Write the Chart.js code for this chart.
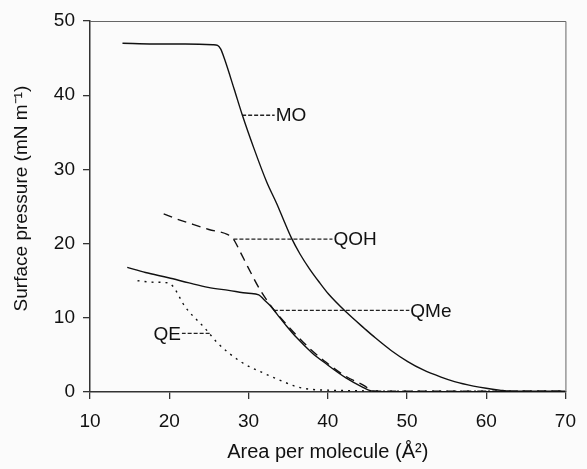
<!DOCTYPE html>
<html>
<head>
<meta charset="utf-8">
<script src="https://cdn.jsdelivr.net/npm/chart.js@4.4.0/dist/chart.umd.min.js"></script>
<style>
  body { margin: 0; background: #fbfbfb; }
  #wrap { width: 587px; height: 469px; }
</style>
</head>
<body>
<div id="wrap"><canvas id="isoCanvas" width="587" height="469"></canvas></div>
<script>
// Isotherm data (area per molecule, surface pressure)
const moX = [14.1, 18, 22, 25.5, 26.1, 26.5, 27.0, 28.2, 29.2, 30.7, 32.3, 33.6, 34.5, 35.4, 36.5, 37.7, 39, 40.1, 42.3, 44.7, 46, 48, 50.1, 52, 54.3, 56, 58.4, 60, 61.7, 63, 66, 70];
const moY = [47.0, 46.9, 46.9, 46.8, 46.7, 46.2, 44.8, 40.8, 37.4, 32.8, 28.3, 25.3, 23.0, 20.8, 18.6, 16.6, 14.7, 13.2, 10.8, 8.5, 7.3, 5.6, 4.1, 3.0, 2.0, 1.4, 0.8, 0.5, 0.25, 0.1, 0.1, 0.1];

const qohX = [19.3, 21, 23, 25, 27.4, 28.1, 29.0, 29.9, 31.5, 33.2, 34.8, 36.1, 38, 39.8, 42.3, 44.7, 45.5, 46, 50, 55, 60, 65, 70];
const qohY = [24.0, 23.3, 22.6, 21.9, 21.2, 20.6, 18.8, 16.9, 13.7, 11.1, 9.1, 7.6, 5.6, 4.0, 2.1, 0.8, 0.2, 0.1, 0.1, 0.1, 0.1, 0.1, 0.1];

const qmeX = [14.7, 17, 19.9, 22.5, 24.9, 27.5, 30.0, 31.3, 32.0, 32.7, 33.6, 34.8, 36.1, 38, 39.8, 42.3, 44.5, 45.5, 47, 50, 55, 60, 65, 70];
const qmeY = [16.8, 16.1, 15.4, 14.7, 14.1, 13.7, 13.3, 13.1, 12.4, 11.7, 10.5, 8.9, 7.3, 5.3, 3.8, 1.9, 0.6, 0.15, 0.05, 0.05, 0.05, 0.05, 0.05, 0.05];

const qeX = [16.0, 18, 19.9, 20.5, 22.0, 24.5, 26.1, 29.0, 32.0, 34.4, 36.1, 38, 40, 45, 50, 55, 60, 65, 70];
const qeY = [15.0, 14.8, 14.7, 14.2, 11.5, 8.6, 6.6, 4.1, 2.5, 1.4, 0.7, 0.35, 0.25, 0.15, 0.1, 0.1, 0.1, 0.1, 0.1];

// curve labels and their leader lines
const labelNames = ['MO', 'QOH', 'QMe', 'QE'];
const leaderFromX = [29.2, 28.1, 33.2, 25.1];
const leaderToX = [33.3, 40.6, 50.3, 21.6];
const leaderY = [37.3, 20.6, 11.0, 7.9];

const xTicks = [10, 20, 30, 40, 50, 60, 70];
const yTicks = [0, 10, 20, 30, 40, 50];

const toPts = (xs, ys) => xs.map((x, i) => ({x: x, y: ys[i]}));

const curveStyle = (pts, dash, width) => ({
    data: pts,
    borderColor: '#111',
    borderWidth: width,
    borderDash: dash,
    pointRadius: 0,
    fill: false,
    cubicInterpolationMode: 'monotone'
});

let datasets = [
    curveStyle(toPts(moX, moY), [], 1.4),
    curveStyle(toPts(qohX, qohY), [9, 6], 1.4),
    curveStyle(toPts(qmeX, qmeY), [], 1.4),
    curveStyle(toPts(qeX, qeY), [2, 5], 1.4)
];
labelNames.forEach((n, i) => {
    datasets.push({
        data: [{x: leaderFromX[i], y: leaderY[i]}, {x: leaderToX[i], y: leaderY[i]}],
        borderColor: '#222',
        borderWidth: 1.3,
        borderDash: [4, 2],
        pointRadius: 0,
        tension: 0
    });
});

// background, top/right frame and the curve names at the end of each leader
const labelPlugin = {
    id: 'curveLabels',
    beforeDraw(chart) {
        const c = chart.ctx;
        c.save();
        c.fillStyle = '#fbfbfb';
        c.fillRect(0, 0, chart.width, chart.height);
        c.restore();
    },
    afterDatasetsDraw(chart) {
        const c = chart.ctx;
        const xs = chart.scales.x, ys = chart.scales.y;
        const a = chart.chartArea;
        c.save();
        c.strokeStyle = '#666';
        c.lineWidth = 1;
        c.beginPath();
        c.moveTo(a.left, a.top + 0.5);
        c.lineTo(a.right + 0.5, a.top + 0.5);
        c.lineTo(a.right + 0.5, a.bottom);
        c.stroke();
        c.font = '19px "Liberation Sans", Arial, sans-serif';
        c.fillStyle = '#111';
        c.textBaseline = 'middle';
        labelNames.forEach((n, i) => {
            const toLeft = leaderToX[i] < leaderFromX[i];
            c.textAlign = toLeft ? 'right' : 'left';
            c.fillText(n, xs.getPixelForValue(leaderToX[i]) + (toLeft ? -1 : 1), ys.getPixelForValue(leaderY[i]) + 1);
        });
        c.restore();
    }
};

const fontSpec = {family: '"Liberation Sans", Arial, sans-serif', size: 19};

new Chart(document.getElementById('isoCanvas').getContext('2d'), {
    type: 'line',
    data: {datasets: datasets},
    plugins: [labelPlugin],
    options: {
        responsive: false,
        animation: false,
        devicePixelRatio: 1,
        layout: {padding: {top: 21, right: 13, left: 0, bottom: 0}},
        plugins: {legend: {display: false}, tooltip: {enabled: false}},
        scales: {
            x: {
                type: 'linear',
                min: 10, max: 70,
                afterBuildTicks: (s) => { s.ticks = xTicks.map(v => ({value: v})); },
                afterFit: (s) => { s.height = 77; },
                grid: {drawOnChartArea: false, tickLength: 7, color: '#333', lineWidth: 1.3},
                border: {color: '#333', width: 1.5},
                ticks: {color: '#111', font: fontSpec, padding: 11, maxRotation: 0},
                title: {display: true, text: 'Area per molecule (Å²)', color: '#111', font: {family: fontSpec.family, size: 20}, padding: {bottom: 5}}
            },
            y: {
                type: 'linear',
                min: 0, max: 50,
                afterBuildTicks: (s) => { s.ticks = yTicks.map(v => ({value: v})); },
                afterFit: (s) => { s.width = 90; },
                grid: {drawOnChartArea: false, tickLength: 7, color: '#333', lineWidth: 1.3},
                border: {color: '#333', width: 1.5},
                ticks: {color: '#111', font: fontSpec, padding: 8},
                title: {display: true, text: '   Surface pressure (mN m⁻¹)', color: '#111', font: fontSpec, padding: {top: 10}}
            }
        }
    }
});
</script>
</body>
</html>
